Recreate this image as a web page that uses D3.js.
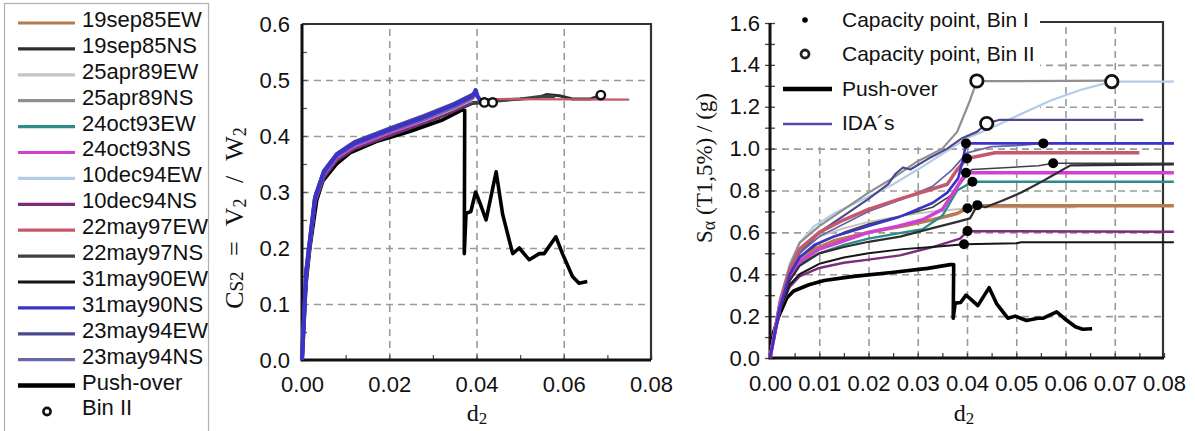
<!DOCTYPE html>
<html>
<head>
<meta charset="utf-8">
<script src="https://cdn.jsdelivr.net/npm/d3@7"></script>
<style>
  body { margin: 0; background: #fff; }
  svg { display: block; }
  .tick text { font-family: "Liberation Sans", Arial, sans-serif; font-size: 22px; fill: #111; }
</style>
</head>
<body>
<svg id="chart" width="1195" height="431"></svg>
<script>
// ---- records and their line colours ----
const records = ["19sep85EW","19sep85NS","25apr89EW","25apr89NS","24oct93EW","24oct93NS",
  "10dec94EW","10dec94NS","22may97EW","22may97NS","31may90EW","31may90NS","23may94EW","23may94NS"];
const recordColors = ["#b67b4e","#2e2e2e","#c4c4c4","#8f8f8f","#2c8c88","#d23fd2",
  "#b4cde6","#7b2c7b","#c4596a","#3d423d","#151515","#3b32c8","#4c4a8e","#6767aa"];

// ---- tick labels ----
const csTicks = [0, 0.1, 0.2, 0.3, 0.4, 0.5, 0.6];
const dTicksLeft = [0, 0.02, 0.04, 0.06, 0.08];
const saTicks = [0, 0.2, 0.4, 0.6, 0.8, 1.0, 1.2, 1.4, 1.6];
const dTicksRight = [0, 0.01, 0.02, 0.03, 0.04, 0.05, 0.06, 0.07, 0.08];

// ---- push-over capacity curve [d2, Cs2] ----
const pushover = [[0,0],[0.0007,0.12],[0.0018,0.2],[0.0034,0.286],[0.0048,0.32],[0.0079,0.35],
  [0.011,0.37],[0.017,0.39],[0.0247,0.408],[0.032,0.428],[0.0366,0.446],[0.0373,0.446],
  [0.0372,0.19],[0.0376,0.262],[0.0387,0.265],[0.0398,0.30],[0.0408,0.28],[0.0422,0.25],
  [0.0445,0.336],[0.046,0.26],[0.0475,0.214],[0.0483,0.19],[0.0498,0.20],[0.0514,0.185],
  [0.0521,0.179],[0.0544,0.19],[0.0555,0.19],[0.0582,0.22],[0.0597,0.19],[0.062,0.149],
  [0.0635,0.137],[0.0654,0.14]];

// ---- IDA results in capacity space [d2, Cs2] ----
const cs19sep85EW = [[0,0],[0.001,0.16],[0.003,0.285],[0.005,0.33],[0.008,0.36],[0.012,0.38],[0.02,0.404],[0.028,0.426],[0.034,0.445],[0.0385,0.462]];
const cs19sep85NS = [[0,0],[0.001,0.15],[0.003,0.28],[0.005,0.325],[0.008,0.356],[0.012,0.377],[0.02,0.4],[0.028,0.423],[0.035,0.445],[0.039,0.458],[0.042,0.46],[0.046,0.465],[0.05,0.466],[0.054,0.468],[0.056,0.474],[0.059,0.472],[0.062,0.466],[0.066,0.466],[0.0685,0.473]];
const cs25apr89EW = [[0,0],[0.001,0.16],[0.003,0.288],[0.005,0.332],[0.008,0.362],[0.012,0.382],[0.02,0.406],[0.028,0.428],[0.035,0.45],[0.039,0.465]];
const cs25apr89NS = [[0,0],[0.001,0.16],[0.003,0.29],[0.005,0.334],[0.008,0.364],[0.012,0.384],[0.02,0.408],[0.028,0.43],[0.035,0.452],[0.0395,0.47]];
const cs24oct93EW = [[0,0],[0.001,0.15],[0.003,0.284],[0.005,0.328],[0.008,0.359],[0.012,0.379],[0.02,0.403],[0.028,0.425],[0.035,0.447],[0.039,0.462]];
const cs24oct93NS = [[0,0],[0.001,0.16],[0.003,0.287],[0.005,0.331],[0.008,0.362],[0.012,0.382],[0.02,0.406],[0.028,0.429],[0.035,0.451],[0.0393,0.468]];
const cs10dec94EW = [[0,0],[0.001,0.16],[0.003,0.29],[0.005,0.335],[0.008,0.366],[0.012,0.386],[0.02,0.41],[0.028,0.432],[0.035,0.455],[0.0398,0.474]];
const cs10dec94NS = [[0,0],[0.001,0.15],[0.003,0.282],[0.005,0.327],[0.008,0.357],[0.012,0.378],[0.02,0.401],[0.028,0.424],[0.035,0.446],[0.0388,0.46]];
const cs22may97EW = [[0,0],[0.001,0.16],[0.003,0.288],[0.005,0.333],[0.008,0.364],[0.012,0.384],[0.02,0.408],[0.028,0.43],[0.035,0.452],[0.0395,0.472],[0.041,0.466],[0.075,0.465]];
const cs22may97NS = [[0,0],[0.001,0.15],[0.003,0.283],[0.005,0.328],[0.008,0.358],[0.012,0.379],[0.02,0.402],[0.028,0.425],[0.035,0.447],[0.039,0.46],[0.044,0.462],[0.05,0.466],[0.055,0.471],[0.058,0.47]];
const cs31may90EW = [[0,0],[0.001,0.15],[0.003,0.281],[0.005,0.326],[0.008,0.357],[0.012,0.377],[0.02,0.4],[0.028,0.423],[0.035,0.445],[0.0386,0.458]];
const cs31may90NS = [[0,0],[0.001,0.16],[0.003,0.29],[0.005,0.336],[0.008,0.367],[0.012,0.387],[0.02,0.411],[0.028,0.434],[0.035,0.456],[0.0392,0.472],[0.0398,0.482],[0.0403,0.47],[0.041,0.462]];
const cs23may94EW = [[0,0],[0.001,0.16],[0.003,0.291],[0.005,0.337],[0.008,0.368],[0.012,0.389],[0.02,0.413],[0.028,0.436],[0.035,0.458],[0.0396,0.476]];
const cs23may94NS = [[0,0],[0.001,0.16],[0.003,0.289],[0.005,0.334],[0.008,0.365],[0.012,0.385],[0.02,0.409],[0.028,0.431],[0.035,0.453],[0.0394,0.47]];
const binIICs = [[0.0418,0.46],[0.0437,0.46],[0.0685,0.473]];

// ---- IDA curves [d2, Sa(T1,5%)] ----
const sa19sep85EW = [[0,0],[0.002,0.24],[0.004,0.38],[0.006,0.46],[0.009,0.52],[0.013,0.56],[0.02,0.6],[0.027,0.63],[0.033,0.66],[0.038,0.69],[0.0401,0.715],[0.042,0.727],[0.082,0.727]];
const sa19sep85NS = [[0,0],[0.002,0.24],[0.004,0.37],[0.006,0.44],[0.01,0.5],[0.015,0.53],[0.02,0.555],[0.0264,0.58],[0.033,0.62],[0.038,0.65],[0.0406,0.667],[0.0421,0.73],[0.0437,0.72],[0.047,0.75],[0.051,0.79],[0.055,0.84],[0.058,0.88],[0.061,0.92],[0.082,0.925]];
const sa25apr89EW = [[0,0],[0.002,0.26],[0.004,0.42],[0.007,0.53],[0.01,0.58],[0.015,0.62],[0.02,0.65],[0.027,0.68],[0.033,0.7],[0.038,0.71],[0.042,0.72],[0.062,0.72]];
const sa25apr89NS = [[0,0],[0.002,0.28],[0.004,0.44],[0.006,0.55],[0.01,0.63],[0.015,0.71],[0.02,0.79],[0.025,0.86],[0.03,0.94],[0.035,1.0],[0.038,1.08],[0.0406,1.23],[0.042,1.323],[0.05,1.322],[0.07,1.325]];
const sa24oct93EW = [[0,0],[0.002,0.24],[0.004,0.38],[0.006,0.45],[0.01,0.5],[0.015,0.54],[0.02,0.57],[0.026,0.595],[0.031,0.615],[0.035,0.68],[0.038,0.8],[0.0411,0.842],[0.082,0.842]];
const sa24oct93NS = [[0,0],[0.002,0.25],[0.004,0.39],[0.006,0.46],[0.01,0.52],[0.015,0.56],[0.02,0.6],[0.026,0.63],[0.031,0.66],[0.035,0.71],[0.0375,0.8],[0.0398,0.885],[0.082,0.885]];
const sa10dec94EW = [[0,0],[0.002,0.27],[0.004,0.45],[0.006,0.55],[0.009,0.63],[0.013,0.69],[0.02,0.77],[0.025,0.83],[0.03,0.9],[0.036,0.99],[0.04,1.05],[0.045,1.1],[0.05,1.155],[0.057,1.23],[0.063,1.28],[0.0694,1.32],[0.082,1.32]];
const sa10dec94NS = [[0,0],[0.002,0.23],[0.004,0.34],[0.006,0.39],[0.01,0.43],[0.015,0.455],[0.02,0.47],[0.0264,0.49],[0.033,0.53],[0.0386,0.57],[0.0401,0.606],[0.082,0.603]];
const sa22may97EW = [[0,0],[0.002,0.26],[0.004,0.42],[0.006,0.52],[0.01,0.6],[0.015,0.66],[0.02,0.71],[0.0264,0.76],[0.032,0.8],[0.036,0.83],[0.038,0.9],[0.04,0.953],[0.0457,0.98],[0.075,0.98]];
const sa22may97NS = [[0,0],[0.002,0.25],[0.004,0.4],[0.006,0.48],[0.01,0.55],[0.015,0.6],[0.02,0.64],[0.027,0.68],[0.033,0.72],[0.037,0.78],[0.0395,0.86],[0.041,0.9],[0.0545,0.918],[0.0575,0.93],[0.082,0.93]];
const sa31may90EW = [[0,0],[0.002,0.23],[0.004,0.35],[0.006,0.4],[0.01,0.45],[0.015,0.48],[0.02,0.5],[0.027,0.52],[0.033,0.53],[0.0394,0.543],[0.05,0.548],[0.051,0.553],[0.082,0.553]];
const sa31may90NS = [[0,0],[0.002,0.24],[0.004,0.4],[0.006,0.48],[0.009,0.54],[0.013,0.58],[0.02,0.63],[0.0264,0.675],[0.033,0.74],[0.036,0.79],[0.0382,0.858],[0.0392,0.95],[0.0398,1.025],[0.082,1.025]];
const sa23may94EW = [[0,0],[0.002,0.25],[0.004,0.4],[0.006,0.5],[0.01,0.6],[0.015,0.68],[0.02,0.76],[0.024,0.83],[0.0255,0.88],[0.027,0.91],[0.0285,0.9],[0.032,0.95],[0.036,1.0],[0.039,1.05],[0.042,1.08],[0.044,1.12],[0.0465,1.137],[0.0758,1.137]];
const sa23may94NS = [[0,0],[0.002,0.25],[0.004,0.41],[0.006,0.5],[0.01,0.58],[0.015,0.64],[0.02,0.7],[0.027,0.76],[0.033,0.82],[0.037,0.9],[0.04,0.98],[0.045,1.01],[0.05,1.015],[0.0555,1.025],[0.082,1.025]];
const binISa = [[0.0398,1.025],[0.0555,1.025],[0.04,0.953],[0.0575,0.93],[0.0398,0.885],[0.0411,0.842],[0.0401,0.715],[0.0421,0.73],[0.0401,0.606],[0.0394,0.543]];
const binIISa = [[0.042,1.323],[0.044,1.12],[0.0694,1.32]];

const csSeries = [cs19sep85EW,cs19sep85NS,cs25apr89EW,cs25apr89NS,cs24oct93EW,cs24oct93NS,cs10dec94EW,
  cs10dec94NS,cs22may97EW,cs22may97NS,cs31may90EW,cs31may90NS,cs23may94EW,cs23may94NS];
const saSeries = [sa19sep85EW,sa19sep85NS,sa25apr89EW,sa25apr89NS,sa24oct93EW,sa24oct93NS,sa10dec94EW,
  sa10dec94NS,sa22may97EW,sa22may97NS,sa31may90EW,sa31may90NS,sa23may94EW,sa23may94NS];
// stroke widths for the Sa curves (thicker where the plot shows heavy lines)
const saWidths = [3.5,2.2,2,2.2,2.4,3.5,2.2,2.4,3.5,1.6,2,2.6,2.2,1.8];
// draw order for the capacity-space band: dark lines underneath, blue on top
const csOrder = [10,1,9,0,4,7,2,3,5,8,6,13,12,11];
const csWidths = [3,3,3,3,3,3,3,3,2.2,3,3,4.2,4,4];

const svg = d3.select("#chart");
const sans = '"Liberation Sans", Arial, sans-serif';
const serif = '"Liberation Serif", "Times New Roman", serif';

// ================= legend of records =================
const lg = svg.append("g");
lg.append("rect").attr("x", 4.5).attr("y", 3.5).attr("width", 204).attr("height", 440)
  .attr("fill", "#fff").attr("stroke", "#b0b0b0").attr("stroke-width", 1.2);
const rowY = i => 19 + i * 25.9;
const legendText = (i, label) => lg.append("text").attr("x", 82).attr("y", rowY(i)).attr("dy", "0.36em")
  .attr("font-family", sans).attr("font-size", 22).attr("fill", "#111").text(label);
records.forEach((r, i) => {
  lg.append("line").attr("x1", 18).attr("x2", 75).attr("y1", rowY(i) + 4).attr("y2", rowY(i) + 4)
    .attr("stroke", recordColors[i]).attr("stroke-width", 3.2);
  legendText(i, r);
});
lg.append("line").attr("x1", 18).attr("x2", 75).attr("y1", rowY(14) + 4).attr("y2", rowY(14) + 4)
  .attr("stroke", "#000").attr("stroke-width", 4.5);
legendText(14, "Push-over");
lg.append("circle").attr("cx", 47).attr("cy", rowY(15) + 4).attr("r", 3.6)
  .attr("fill", "#fff").attr("stroke", "#111").attr("stroke-width", 2.6);
legendText(15, "Bin II");

// ================= capacity-space chart =================
const x1 = d3.scaleLinear().domain([0, 0.08]).range([302, 651]);
const y1 = d3.scaleLinear().domain([0, 0.6]).range([360, 24]);
const g1 = svg.append("g");

// dashed grid
g1.append("g").attr("transform", `translate(${x1(0)},0)`)
  .call(d3.axisLeft(y1).tickValues([0.1, 0.2, 0.3, 0.4, 0.5]).tickSize(-(x1(0.08) - x1(0))).tickFormat(""))
  .call(g => g.select(".domain").remove())
  .call(g => g.selectAll("line").attr("stroke", "#9a9a9a").attr("stroke-width", 1.6).attr("stroke-dasharray", "7,5"));
g1.append("g").attr("transform", `translate(0,${y1(0)})`)
  .call(d3.axisBottom(x1).tickValues([0.02, 0.04, 0.06]).tickSize(-(y1(0) - y1(0.6))).tickFormat(""))
  .call(g => g.select(".domain").remove())
  .call(g => g.selectAll("line").attr("stroke", "#9a9a9a").attr("stroke-width", 1.6).attr("stroke-dasharray", "7,5"));

// minor ticks inside the frame
g1.append("g").attr("transform", `translate(${x1(0)},0)`)
  .call(d3.axisRight(y1).tickValues(d3.range(0, 13).map(i => i * 0.05)).tickSize(5).tickFormat(""))
  .call(g => g.select(".domain").remove())
  .call(g => g.selectAll("line").attr("stroke", "#555").attr("stroke-width", 1.3));
g1.append("g").attr("transform", `translate(0,${y1(0)})`)
  .call(d3.axisTop(x1).tickValues(d3.range(0, 9).map(i => i * 0.01)).tickSize(5).tickFormat(""))
  .call(g => g.select(".domain").remove())
  .call(g => g.selectAll("line").attr("stroke", "#555").attr("stroke-width", 1.3));

// frame
g1.append("path").attr("d", `M${x1(0)},${y1(0.6)}H${x1(0.08)}V${y1(0)}`)
  .attr("fill", "none").attr("stroke", "#333").attr("stroke-width", 2.2);
g1.append("path").attr("d", `M${x1(0)},${y1(0.6)}V${y1(0)}H${x1(0.08)}`)
  .attr("fill", "none").attr("stroke", "#111").attr("stroke-width", 3);

// tick labels
g1.append("g").attr("transform", `translate(${x1(0)},0)`)
  .call(d3.axisLeft(y1).tickValues(csTicks).tickFormat(d3.format(".1f")).tickSize(0).tickPadding(12))
  .call(g => g.select(".domain").remove());
g1.append("g").attr("transform", `translate(0,${y1(0)})`)
  .call(d3.axisBottom(x1).tickValues(dTicksLeft).tickFormat(d3.format(".2f")).tickSize(0).tickPadding(16))
  .call(g => g.select(".domain").remove());

const line1 = d3.line().x(d => x1(d[0])).y(d => y1(d[1]));
g1.append("path").datum(pushover).attr("d", line1).attr("fill", "none")
  .attr("stroke", "#000").attr("stroke-width", 3.6).attr("stroke-linejoin", "round");
csOrder.forEach(i => {
  g1.append("path").datum(csSeries[i]).attr("d", line1).attr("fill", "none")
    .attr("stroke", recordColors[i]).attr("stroke-width", csWidths[i])
    .attr("stroke-linejoin", "round");
});
g1.selectAll("circle.b2").data(binIICs).join("circle").attr("class", "b2")
  .attr("cx", d => x1(d[0])).attr("cy", d => y1(d[1])).attr("r", 4.2)
  .attr("fill", "#fff").attr("stroke", "#111").attr("stroke-width", 2.4);

// axis titles
const t1 = g1.append("text").attr("transform", `translate(243,218) rotate(-90)`)
  .attr("text-anchor", "middle").attr("font-family", serif).attr("font-size", 26).attr("fill", "#111")
  .attr("word-spacing", 9);
t1.append("tspan").text("C");
t1.append("tspan").attr("font-size", 19).text("S2");
t1.append("tspan").text(" = V");
t1.append("tspan").attr("font-size", 18).attr("dy", 3).text("2");
t1.append("tspan").attr("dy", -3).text(" / W");
t1.append("tspan").attr("font-size", 18).attr("dy", 3).text("2");
const dx1 = g1.append("text").attr("x", 477).attr("y", 421).attr("text-anchor", "middle")
  .attr("font-family", serif).attr("font-size", 24).attr("fill", "#111");
dx1.append("tspan").text("d");
dx1.append("tspan").attr("font-size", 17).attr("dy", 3).text("2");

// ================= IDA chart =================
const x2 = d3.scaleLinear().domain([0, 0.08]).range([770, 1164]);
const y2 = d3.scaleLinear().domain([0, 1.6]).range([358, 23]);
const g2 = svg.append("g");

g2.append("g").attr("transform", `translate(${x2(0)},0)`)
  .call(d3.axisLeft(y2).tickValues([0.2, 0.4, 0.6, 0.8, 1.0, 1.2, 1.4]).tickSize(-(x2(0.08) - x2(0))).tickFormat(""))
  .call(g => g.select(".domain").remove())
  .call(g => g.selectAll("line").attr("stroke", "#9a9a9a").attr("stroke-width", 1.6).attr("stroke-dasharray", "7,5"));
g2.append("g").attr("transform", `translate(0,${y2(0)})`)
  .call(d3.axisBottom(x2).tickValues([0.01, 0.02, 0.03, 0.04, 0.05, 0.06, 0.07]).tickSize(-(y2(0) - y2(1.6))).tickFormat(""))
  .call(g => g.select(".domain").remove())
  .call(g => g.selectAll("line").attr("stroke", "#9a9a9a").attr("stroke-width", 1.6).attr("stroke-dasharray", "7,5"));

// legend panel sits over the upper-left grid
g2.append("rect").attr("x", x2(0) + 2).attr("y", y2(1.6) - 2).attr("width", 1040 - x2(0) - 2)
  .attr("height", 143 - y2(1.6) + 2).attr("fill", "#fff");

// ticks crossing the axes
g2.append("g").attr("transform", `translate(${x2(0)},0)`)
  .call(d3.axisLeft(y2).tickValues(d3.range(0, 17).map(i => i * 0.1)).tickSizeInner(5).tickSizeOuter(0).tickFormat(""))
  .call(g => g.select(".domain").remove())
  .call(g => g.selectAll("line").attr("stroke", "#444").attr("stroke-width", 1.3).attr("x2", -5).attr("x1", 5));
g2.append("g").attr("transform", `translate(0,${y2(0)})`)
  .call(d3.axisTop(x2).tickValues(d3.range(0, 17).map(i => i * 0.005)).tickSize(5).tickFormat(""))
  .call(g => g.select(".domain").remove())
  .call(g => g.selectAll("line").attr("stroke", "#444").attr("stroke-width", 1.3));

// frame
g2.append("path").attr("d", `M1040,${y2(1.6) - 1}H${x2(0.08) - 1}V${y2(0)}`)
  .attr("fill", "none").attr("stroke", "#333").attr("stroke-width", 2.2);
g2.append("path").attr("d", `M${x2(0)},${y2(1.6)}V${y2(0)}H${x2(0.08)}`)
  .attr("fill", "none").attr("stroke", "#111").attr("stroke-width", 3);

g2.append("g").attr("transform", `translate(${x2(0) - 4},0)`)
  .call(d3.axisLeft(y2).tickValues(saTicks).tickFormat(d3.format(".1f")).tickSize(0).tickPadding(6))
  .call(g => g.select(".domain").remove());
g2.append("g").attr("transform", `translate(0,${y2(0)})`)
  .call(d3.axisBottom(x2).tickValues(dTicksRight).tickFormat(d3.format(".2f")).tickSize(0).tickPadding(17))
  .call(g => g.select(".domain").remove());

const line2 = d3.line().x(d => x2(d[0])).y(d => y2(d[1]));
// push-over expressed in the same ordinate
g2.append("path").datum(pushover).attr("d", line2).attr("fill", "none")
  .attr("stroke", "#000").attr("stroke-width", 3.6).attr("stroke-linejoin", "round");
[2, 6, 3, 12, 13, 0, 7, 10, 4, 9, 8, 5, 1, 11].forEach(i => {
  g2.append("path").datum(saSeries[i]).attr("d", line2).attr("fill", "none")
    .attr("stroke", recordColors[i]).attr("stroke-width", saWidths[i])
    .attr("stroke-linejoin", "round");
});
g2.selectAll("circle.b1").data(binISa).join("circle").attr("class", "b1")
  .attr("cx", d => x2(d[0])).attr("cy", d => y2(d[1])).attr("r", 5).attr("fill", "#000");
g2.selectAll("circle.b2").data(binIISa).join("circle").attr("class", "b2")
  .attr("cx", d => x2(d[0])).attr("cy", d => y2(d[1])).attr("r", 6.2)
  .attr("fill", "#fff").attr("stroke", "#111").attr("stroke-width", 2.8);

// legend of the IDA chart
const lg2 = g2.append("g").attr("font-family", sans).attr("font-size", 21).attr("fill", "#111");
lg2.append("circle").attr("cx", 805).attr("cy", 20).attr("r", 2.8).attr("fill", "#000");
lg2.append("text").attr("x", 842).attr("y", 19).attr("dy", "0.36em").text("Capacity point, Bin I");
lg2.append("circle").attr("cx", 805).attr("cy", 54).attr("r", 4).attr("fill", "#fff")
  .attr("stroke", "#222").attr("stroke-width", 2.8);
lg2.append("text").attr("x", 842).attr("y", 53).attr("dy", "0.36em").text("Capacity point, Bin II");
lg2.append("line").attr("x1", 783).attr("x2", 832).attr("y1", 89).attr("y2", 89)
  .attr("stroke", "#000").attr("stroke-width", 4.5);
lg2.append("text").attr("x", 842).attr("y", 88).attr("dy", "0.36em").text("Push-over");
lg2.append("line").attr("x1", 783).attr("x2", 832).attr("y1", 124).attr("y2", 124)
  .attr("stroke", "#5848b0").attr("stroke-width", 2.6);
lg2.append("text").attr("x", 842).attr("y", 122).attr("dy", "0.36em").text("IDA´s");

const t2 = g2.append("text").attr("transform", `translate(712,168) rotate(-90)`)
  .attr("text-anchor", "middle").attr("font-family", serif).attr("font-size", 23).attr("fill", "#111");
t2.append("tspan").text("S");
t2.append("tspan").attr("font-size", 18).attr("dy", 3).text("α");
t2.append("tspan").attr("dy", -3).text(" (T1,5%) / (g)");
const dx2 = g2.append("text").attr("x", 964).attr("y", 421).attr("text-anchor", "middle")
  .attr("font-family", serif).attr("font-size", 24).attr("fill", "#111");
dx2.append("tspan").text("d");
dx2.append("tspan").attr("font-size", 17).attr("dy", 3).text("2");
</script>
</body>
</html>
